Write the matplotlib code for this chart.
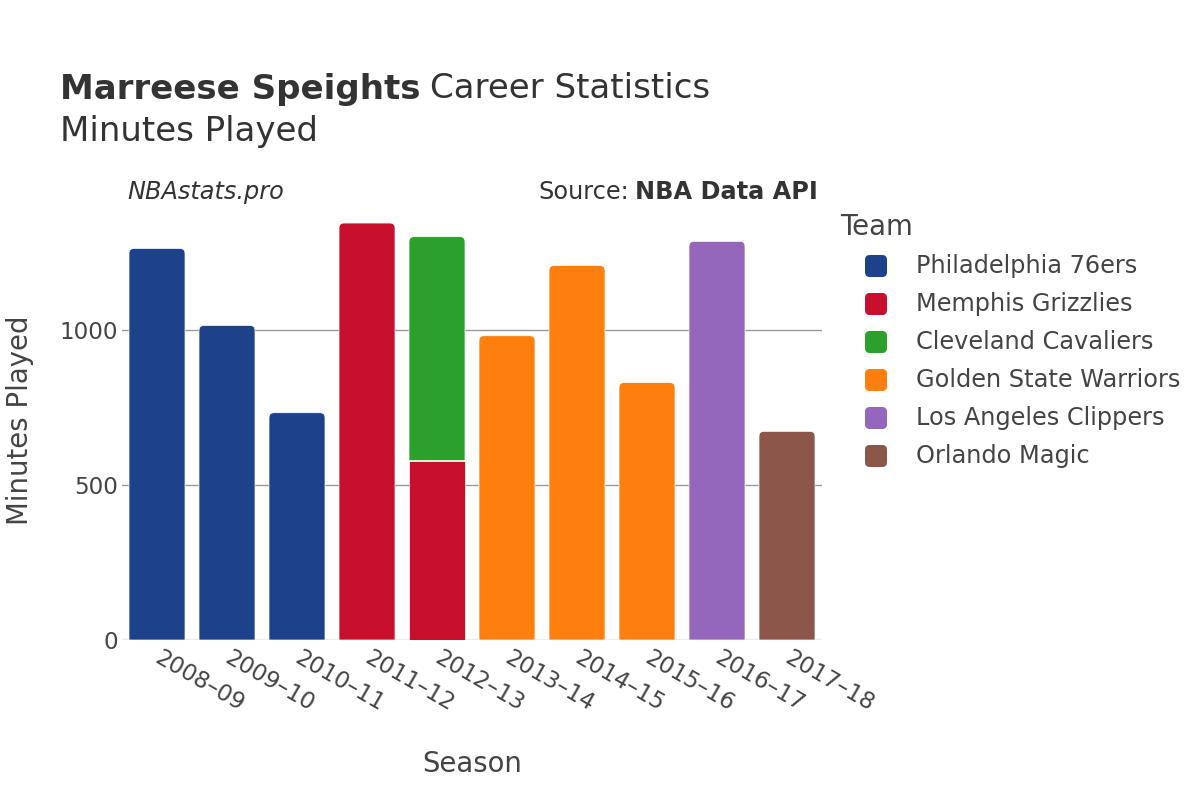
import numpy as np
import matplotlib.pyplot as plt
from matplotlib.path import Path
from matplotlib.patches import PathPatch, FancyBboxPatch

plt.rcParams['font.family'] = ['DejaVu Sans']

seasons = ['2008–09', '2009–10', '2010–11', '2011–12', '2012–13',
           '2013–14', '2014–15', '2015–16', '2016–17', '2017–18']
teams = ['Philadelphia 76ers', 'Memphis Grizzlies', 'Cleveland Cavaliers',
         'Golden State Warriors', 'Los Angeles Clippers', 'Orlando Magic']
colors = ['#1d428a', '#c8102e', '#2ca02c', '#ff7f0e', '#9467bd', '#8c564b']

# minutes per season for each team (0 = did not play there)
phi = [1261, 1013, 732, 0, 0, 0, 0, 0, 0, 0]
mem = [0, 0, 0, 1343, 578, 0, 0, 0, 0, 0]
cle = [0, 0, 0, 0, 721, 0, 0, 0, 0, 0]
gsw = [0, 0, 0, 0, 0, 980, 1206, 829, 0, 0]
lac = [0, 0, 0, 0, 0, 0, 0, 0, 1284, 0]
orl = [0, 0, 0, 0, 0, 0, 0, 0, 0, 672]
series = [phi, mem, cle, gsw, lac, orl]

txt = '#444444'
W, H = 1200, 800
fig = plt.figure(figsize=(12, 8), dpi=100)
ax = fig.add_axes([122 / W, 1 - 640 / H, 700 / W, (640 - 201) / H])

x = np.arange(len(seasons))
width = 0.8
ax.set_xlim(-0.5, len(seasons) - 0.5)
ax.set_ylim(0, 1414)

# corner radius, in data units (5 px)
rx = 5 / 70
ry = 5 / (439 / 1414)

totals = np.sum(series, axis=0)
bottoms = np.zeros(len(seasons))
for vals, col in zip(series, colors):
    vals = np.array(vals, dtype=float)
    for i in range(len(seasons)):
        if vals[i] <= 0:
            continue
        b = bottoms[i]
        t = b + vals[i]
        l, r = x[i] - width / 2, x[i] + width / 2
        if t >= totals[i]:
            # top segment gets rounded corners
            verts = [(l, b), (l, t - ry), (l, t), (l + rx, t), (r - rx, t),
                     (r, t), (r, t - ry), (r, b), (l, b)]
            codes = [Path.MOVETO, Path.LINETO, Path.CURVE3, Path.CURVE3,
                     Path.LINETO, Path.CURVE3, Path.CURVE3, Path.LINETO,
                     Path.CLOSEPOLY]
            ax.add_patch(PathPatch(Path(verts, codes), facecolor=col,
                                   edgecolor='white', lw=0.5, zorder=3))
        else:
            ax.bar(x[i], vals[i], width, bottom=b, color=col,
                   edgecolor='white', linewidth=0.5, zorder=3)
    bottoms += vals

ax.set_yticks([0, 500, 1000])
ax.set_yticklabels(['0', '500', '1000'])
ax.grid(axis='y', color='#999999', lw=1, zorder=0)
ax.axhline(0, color='#eeeeee', lw=2.5, zorder=2)
for s in ax.spines.values():
    s.set_visible(False)
ax.tick_params(axis='both', length=0, labelsize=16.6, colors=txt, pad=3)
ax.set_xticks(x)
ax.set_xticklabels(seasons, rotation=-30, ha='left', va='center',
                   rotation_mode='anchor')
ax.tick_params(axis='x', pad=12)

ax.set_xlabel('Season', fontsize=19.8, color=txt, labelpad=24)
ax.set_ylabel('Minutes Played', fontsize=19.8, color=txt, labelpad=18)

# titles
t1 = fig.text(60 / W, 1 - 89 / H, 'Marreese Speights', fontsize=24.5,
              weight='bold', color='#333333', va='center', ha='left')
fig.canvas.draw()
bb = t1.get_window_extent()
fig.text((bb.x1 + 9) / W, 1 - 89 / H, 'Career Statistics', fontsize=24.5,
         color='#333333', va='center', ha='left')
fig.text(60 / W, 1 - 132 / H, 'Minutes Played', fontsize=24.5,
         color='#333333', va='center', ha='left')

fig.text(127 / W, 1 - 192 / H, 'NBAstats.pro', fontsize=17.3, style='italic',
         color='#333333', va='center', ha='left')
s2 = fig.text(818 / W, 1 - 192 / H, 'NBA Data API', fontsize=17.3,
              weight='bold', color='#333333', va='center', ha='right')
fig.canvas.draw()
bb2 = s2.get_window_extent()
fig.text((bb2.x0 - 6) / W, 1 - 192 / H, 'Source:', fontsize=17.3,
         color='#333333', va='center', ha='right')

# legend
fig.text(840 / W, 1 - 227 / H, 'Team', fontsize=19.8, color=txt,
         va='center', ha='left')
for k, (team, col) in enumerate(zip(teams, colors)):
    yc = 266 + 38 * k
    fig.patches.append(FancyBboxPatch(
        (865 / W, 1 - (yc + 11) / H), 22 / W, 22 / H,
        boxstyle='round,pad=0,rounding_size=0.004',
        mutation_aspect=W / H, transform=fig.transFigure,
        facecolor=col, edgecolor='none', figure=fig))
    fig.text(916 / W, 1 - yc / H, team, fontsize=17.3, color=txt,
             va='center', ha='left')

fig.savefig('out.png', dpi=100, facecolor='white')
